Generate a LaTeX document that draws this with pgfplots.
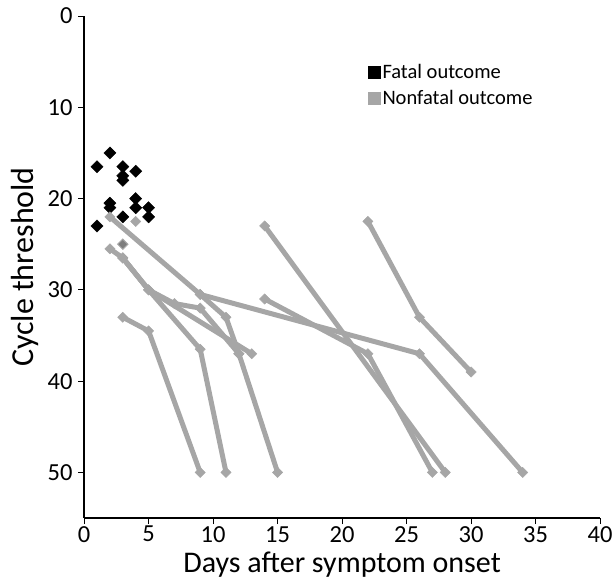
\documentclass[border=0pt]{standalone}
\usepackage{fontspec}
\setmainfont{Carlito}
\usepackage{pgfplots}
\pgfplotsset{compat=1.18}
\definecolor{nonfatal}{RGB}{166,166,166}
\definecolor{overlap}{RGB}{125,125,125}
\pgfplotsset{
  patient/.style={nonfatal, line width=5pt, mark=square*, mark size=3.6pt,
    mark options={rotate=45, solid, fill=nonfatal, draw=nonfatal, line width=0.5pt}, forget plot},
}
\begin{document}
\begin{tikzpicture}
\begin{axis}[
  scale only axis, width=516pt, height=502pt,
  xmin=0, xmax=40, ymin=0, ymax=55, y dir=reverse,
  axis x line*=bottom, axis y line*=left,
  xtick={0,5,...,40}, ytick={0,10,...,50},
  tick align=outside, major tick length=6pt,
  tick style={black, line width=0.8pt},
  axis line style={black, line width=1.2pt, -},
  ticklabel style={font=\fontsize{24.5}{28}\selectfont},
  yticklabel style={xshift=-2pt},
  xticklabel style={yshift=-1pt, inner sep=1pt},
  /pgf/number format/assume math mode=true,
  xlabel={Days after symptom onset}, ylabel={Cycle threshold},
  xlabel style={font=\fontsize{30}{34}\selectfont, at={(axis description cs:0.5,-0.066)}, anchor=north, inner sep=1pt},
  ylabel style={font=\fontsize{32}{36}\selectfont, at={(axis description cs:-0.114,0.5)}, anchor=center},
  legend style={at={(axis description cs:0.545,0.912)}, anchor=north west,
    draw=none, fill=none, font=\fontsize{20.5}{24}\selectfont, row sep=6pt},
  legend cell align=left,
  clip=false,
]
% fatal outcome
\addplot[only marks, mark=square*, mark size=4.3pt, mark options={rotate=45}, black, forget plot]
  coordinates {(1,16.5) (2,15) (3,16.5) (4,17) (3,17.5) (3,18) (2,20.5) (2,21)
               (4,20) (4,21) (5,21) (5,22) (3,22) (1,23)};
% nonfatal outcome, one line per patient
\addplot[patient] coordinates {(2,22) (9,30.5) (26,37) (34,50)};
\addplot[patient] coordinates {(9,30.5) (11,33) (12,37) (15,50)};
\addplot[patient] coordinates {(2,25.5) (3,26.5) (5,30) (7,31.5) (9,32) (12,37)};
\addplot[patient] coordinates {(3,26.5) (5,30) (13,37)};
\addplot[patient] coordinates {(3,26.5) (5,30) (9,36.5) (11,50)};
\addplot[patient] coordinates {(3,33) (5,34.5) (9,50)};
\addplot[patient] coordinates {(14,23) (28,50)};
\addplot[patient] coordinates {(14,31) (22,37) (27,50)};
\addplot[patient] coordinates {(22,22.5) (26,33) (30,39)};
\addplot[patient, only marks] coordinates {(4,22.5)};
\addplot[only marks, mark=square*, mark size=3.6pt, mark options={rotate=45, fill=overlap, draw=nonfatal, line width=1pt}, forget plot]
  coordinates {(3,25)};
\addlegendimage{only marks, mark=square*, mark size=6pt, black}
\addlegendentry{Fatal outcome}
\addlegendimage{only marks, mark=square*, mark size=6pt, nonfatal}
\addlegendentry{Nonfatal outcome}
\coordinate (bl) at (axis description cs:-0.163,-0.137);
\coordinate (tr) at (axis description cs:1.027,1.032);
\end{axis}
\pgfresetboundingbox
\path[use as bounding box] (bl) rectangle (tr);
\end{tikzpicture}
\end{document}
